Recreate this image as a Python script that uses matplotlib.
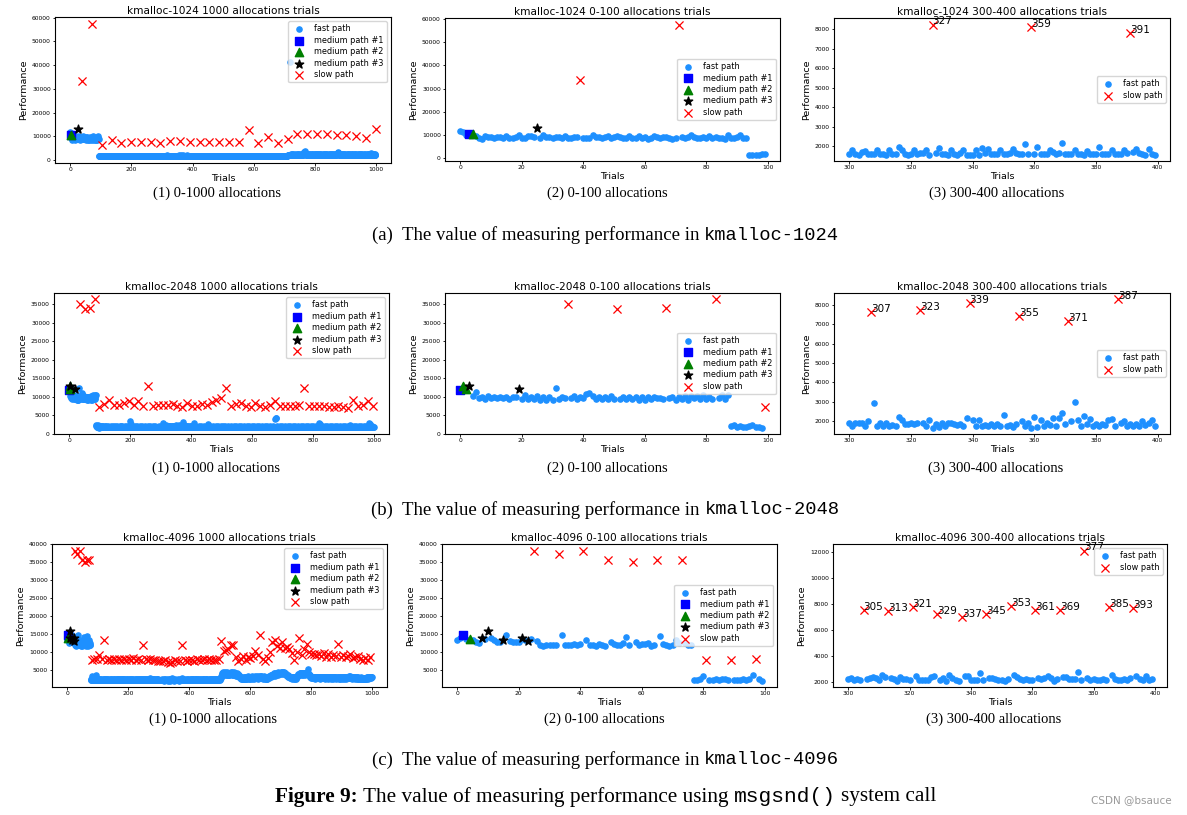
import numpy as np
import matplotlib
matplotlib.use('Agg')
import matplotlib.pyplot as plt

# measured performance per trial (units of 10), trials 0..999
perf_1024 = [
    1170, 1150, 1000, 1070, 1050, 950, 880, 850, 950, 900, 920, 870, 940, 900, 860, 950, 880, 870, 900, 1000,
    880, 890, 960, 980, 900, 1290, 870, 1020, 930, 900, 880, 920, 910, 860, 960, 870, 890, 910, 920, 3350,
    880, 890, 870, 1000, 900, 920, 880, 930, 950, 870, 900, 960, 910, 860, 880, 960, 870, 860, 950, 880,
    910, 850, 870, 960, 910, 870, 900, 940, 880, 850, 870, 5750, 900, 860, 930, 1000, 910, 880, 870, 940,
    880, 950, 860, 930, 860, 880, 850, 990, 870, 890, 930, 1000, 880, 870, 170, 170, 170, 170, 175, 180,
    165, 170, 180, 650, 175, 165, 170, 190, 168, 172, 165, 178, 170, 182, 166, 170, 175, 168, 185, 170,
    172, 168, 180, 175, 165, 170, 188, 170, 166, 174, 170, 180, 168, 172, 165, 850, 170, 178, 168, 175,
    168, 180, 172, 165, 170, 185, 170, 168, 176, 170, 165, 172, 190, 168, 170, 175, 166, 172, 180, 168,
    170, 165, 178, 172, 168, 170, 182, 700, 170, 166, 175, 170, 168, 180, 172, 165, 170, 185, 168, 172,
    166, 172, 170, 180, 168, 165, 175, 170, 190, 168, 172, 166, 170, 178, 165, 170, 182, 168, 172, 780,
    170, 168, 175, 166, 172, 180, 168, 170, 165, 176, 170, 172, 168, 185, 170, 166, 174, 170, 168, 180,
    172, 165, 170, 178, 168, 172, 166, 175, 170, 168, 182, 750, 170, 165, 172, 168, 178, 170, 166, 172,
    168, 175, 170, 165, 180, 170, 168, 172, 166, 190, 170, 168, 175, 170, 165, 172, 180, 168, 170, 166,
    172, 170, 168, 750, 175, 166, 170, 180, 168, 172, 165, 170, 178, 168, 172, 166, 175, 170, 185, 168,
    170, 166, 172, 178, 168, 170, 165, 175, 170, 168, 182, 170, 166, 172, 168, 720, 170, 175, 166, 170,
    160, 178, 160, 157, 169, 176, 160, 159, 160, 178, 160, 159, 157, 178, 160, 160, 195, 181, 160, 157,
    160, 178, 160, 163, 163, 178, 157, 825, 164, 188, 160, 162, 157, 178, 160, 157, 163, 178, 157, 157,
    157, 181, 157, 188, 163, 183, 160, 160, 160, 178, 160, 160, 163, 183, 163, 160, 160, 209, 160, 810,
    160, 195, 160, 160, 160, 178, 169, 160, 167, 217, 160, 160, 160, 179, 160, 160, 157, 174, 160, 160,
    159, 198, 160, 160, 160, 181, 160, 160, 160, 178, 163, 782, 169, 186, 163, 160, 157, 183, 159, 157,
    170, 165, 172, 168, 180, 170, 166, 175, 170, 168, 172, 165, 178, 170, 168, 185, 170, 166, 172, 168,
    175, 170, 165, 750, 172, 168, 180, 170, 166, 172, 170, 168, 175, 165, 170, 190, 168, 172, 166, 170,
    178, 168, 170, 165, 172, 180, 168, 170, 166, 175, 170, 168, 172, 165, 180, 760, 170, 168, 175, 166,
    172, 170, 168, 180, 165, 170, 175, 168, 172, 166, 170, 185, 168, 170, 165, 172, 178, 170, 168, 166,
    170, 175, 168, 172, 165, 180, 170, 750, 168, 172, 166, 170, 178, 168, 170, 165, 172, 180, 168, 170,
    166, 172, 170, 168, 190, 170, 165, 172, 168, 175, 170, 166, 172, 180, 168, 170, 165, 172, 170, 750,
    168, 172, 166, 175, 170, 168, 180, 170, 165, 172, 168, 170, 176, 166, 172, 170, 185, 168, 170, 172,
    166, 175, 170, 168, 172, 165, 180, 170, 168, 172, 166, 750, 170, 178, 168, 172, 165, 170, 175, 168,
    172, 170, 166, 180, 168, 170, 175, 165, 172, 170, 168, 178, 170, 166, 172, 168, 190, 170, 165, 172,
    170, 168, 175, 1270, 166, 172, 170, 180, 168, 165, 172, 170, 176, 168, 170, 166, 172, 180, 170, 168,
    172, 165, 170, 178, 168, 172, 166, 170, 185, 168, 170, 175, 166, 172, 170, 740, 168, 180, 170, 166,
    172, 170, 168, 175, 165, 172, 180, 168, 170, 166, 172, 170, 178, 168, 165, 172, 170, 180, 168, 172,
    166, 170, 175, 168, 172, 165, 170, 980, 168, 180, 172, 166, 170, 168, 175, 172, 165, 170, 190, 168,
    172, 170, 166, 178, 168, 170, 172, 165, 180, 170, 168, 172, 166, 175, 170, 168, 172, 180, 170, 720,
    168, 172, 165, 170, 176, 168, 172, 170, 166, 180, 168, 172, 170, 165, 175, 168, 170, 172, 166, 180,
    170, 168, 172, 165, 178, 170, 168, 172, 166, 170, 175, 880, 210, 225, 220, 235, 215, 230, 220, 4130,
    225, 240, 215, 230, 220, 245, 225, 215, 235, 220, 250, 225, 215, 230, 240, 220, 225, 235, 215, 230,
    245, 220, 230, 1080, 225, 215, 240, 230, 220, 250, 225, 235, 215, 230, 245, 220, 225, 240, 215, 230,
    225, 240, 230, 250, 265, 330, 360, 390, 300, 260, 240, 225, 235, 220, 245, 1100, 230, 220, 250, 225,
    235, 215, 240, 225, 230, 250, 220, 235, 225, 245, 220, 230, 240, 215, 235, 225, 250, 220, 230, 240,
    225, 235, 220, 245, 230, 215, 240, 1100, 225, 235, 250, 220, 230, 225, 240, 215, 235, 225, 245, 220,
    230, 240, 225, 215, 235, 250, 225, 230, 220, 245, 235, 225, 215, 240, 230, 225, 250, 220, 235, 1080,
    225, 240, 230, 215, 235, 225, 245, 220, 230, 240, 225, 215, 250, 230, 225, 235, 220, 240, 230, 225,
    245, 220, 235, 225, 230, 240, 215, 250, 225, 235, 230, 1070, 240, 260, 290, 310, 320, 280, 245, 225,
    235, 225, 240, 215, 230, 250, 225, 235, 220, 245, 230, 225, 240, 215, 235, 225, 250, 230, 220, 240,
    225, 235, 215, 1050, 230, 245, 225, 220, 240, 230, 215, 235, 225, 250, 230, 220, 240, 225, 235, 215,
    240, 230, 225, 245, 220, 235, 230, 215, 250, 225, 235, 240, 220, 230, 225, 1030, 240, 215, 235, 225,
    230, 245, 220, 235, 225, 240, 215, 230, 250, 225, 235, 220, 240, 230, 215, 245, 225, 235, 220, 230,
    240, 225, 235, 215, 250, 230, 225, 950, 235, 220, 240, 230, 225, 245, 215, 235, 230, 250, 225, 220,
    235, 245, 260, 270, 290, 260, 240, 225, 235, 220, 245, 230, 215, 240, 225, 235, 220, 230, 240, 1300,
]
slow_1024 = [39, 71, 103, 135, 167, 199, 231, 263, 295, 327, 359, 391, 423, 455, 487, 519,
             551, 583, 615, 647, 679, 711, 743, 775, 807, 839, 871, 903, 935, 967, 999]
med1_1024 = [3]
med2_1024 = [4]
med3_1024 = [25]

perf_2048 = [
    1190, 1280, 1210, 1280, 1010, 1120, 970, 980, 930, 1010, 960, 1000, 950, 1000, 950, 1000, 940, 980, 990, 1210,
    940, 1030, 940, 980, 940, 1020, 920, 990, 920, 980, 920, 1240, 930, 990, 950, 3500, 950, 1010, 930, 990,
    970, 1070, 1100, 1010, 930, 980, 930, 990, 940, 1010, 930, 3370, 940, 1000, 930, 990, 930, 980, 920, 990,
    920, 990, 930, 1000, 960, 970, 930, 3390, 960, 990, 920, 990, 930, 1020, 920, 1020, 950, 1010, 930, 1030,
    930, 990, 930, 3630, 960, 1030, 930, 1040, 190, 220, 170, 190, 180, 170, 190, 240, 180, 180, 160, 720,
    180, 190, 175, 185, 195, 178, 182, 190, 176, 185, 180, 192, 178, 186, 180, 800, 184, 176, 190, 182,
    178, 186, 192, 180, 175, 188, 182, 190, 178, 184, 180, 900, 176, 188, 182, 178, 192, 180, 186, 176,
    184, 180, 190, 178, 186, 182, 176, 780, 188, 180, 192, 178, 184, 186, 180, 176, 190, 182, 178, 186,
    180, 188, 176, 770, 184, 190, 178, 182, 186, 180, 176, 192, 184, 178, 190, 182, 180, 186, 176, 830,
    188, 182, 178, 190, 184, 176, 186, 180, 192, 178, 184, 182, 176, 188, 180, 880, 186, 182, 190, 240,
    330, 250, 184, 190, 178, 186, 182, 176, 188, 180, 184, 760, 178, 186, 182, 190, 176, 184, 180, 188,
    182, 178, 190, 184, 176, 186, 180, 890, 188, 182, 178, 184, 190, 176, 186, 180, 182, 188, 178, 184,
    190, 180, 176, 740, 186, 182, 188, 178, 184, 190, 176, 182, 186, 180, 188, 178, 184, 176, 190, 1280,
    184, 180, 188, 176, 182, 190, 186, 178, 184, 180, 188, 176, 182, 186, 190, 750, 178, 184, 180, 188,
    176, 186, 182, 190, 178, 184, 180, 188, 176, 182, 186, 760, 184, 178, 190, 182, 180, 186, 176, 184,
    188, 174, 188, 191, 191, 171, 197, 762, 290, 171, 191, 171, 188, 171, 179, 171, 220, 202, 185, 185,
    188, 185, 188, 774, 191, 171, 202, 165, 185, 168, 191, 171, 191, 188, 185, 179, 185, 171, 216, 808,
    202, 171, 202, 174, 179, 174, 185, 171, 185, 174, 231, 171, 181, 169, 185, 741, 198, 171, 188, 165,
    220, 168, 205, 171, 191, 176, 216, 174, 216, 240, 183, 715, 197, 300, 202, 171, 224, 185, 212, 174,
    185, 171, 185, 179, 202, 208, 171, 829, 187, 197, 171, 185, 171, 185, 171, 197, 179, 188, 202, 171,
    184, 178, 190, 750, 182, 186, 176, 188, 180, 184, 290, 182, 178, 186, 190, 176, 184, 180, 188, 740,
    182, 176, 188, 184, 180, 190, 178, 186, 182, 176, 188, 180, 184, 190, 178, 800, 186, 182, 176, 188,
    180, 184, 178, 190, 186, 182, 176, 188, 180, 184, 178, 770, 190, 186, 180, 176, 260, 184, 178, 188,
    182, 186, 176, 190, 180, 184, 178, 850, 188, 182, 176, 186, 180, 190, 184, 178, 182, 188, 176, 184,
    190, 180, 186, 900, 178, 184, 182, 188, 176, 190, 180, 184, 186, 178, 182, 188, 176, 184, 190, 950,
    180, 186, 178, 184, 190, 182, 176, 188, 180, 184, 178, 186, 190, 182, 176, 1220, 184, 180, 188, 178,
    186, 182, 190, 176, 184, 180, 188, 178, 186, 182, 190, 750, 176, 184, 180, 188, 182, 178, 186, 190,
    180, 184, 176, 188, 182, 186, 178, 800, 190, 180, 184, 176, 188, 182, 186, 178, 190, 184, 180, 176,
    188, 182, 186, 830, 178, 190, 184, 180, 176, 188, 182, 186, 178, 190, 184, 180, 176, 188, 182, 750,
    186, 178, 190, 184, 180, 176, 188, 182, 186, 178, 190, 184, 180, 176, 188, 730, 182, 186, 178, 190,
    184, 180, 176, 188, 182, 186, 178, 190, 184, 180, 176, 830, 188, 182, 186, 178, 190, 184, 180, 176,
    188, 182, 186, 178, 190, 184, 180, 750, 176, 188, 182, 186, 178, 190, 184, 180, 176, 188, 182, 186,
    178, 190, 184, 730, 180, 176, 188, 182, 186, 178, 190, 184, 180, 176, 188, 182, 186, 178, 190, 760,
    184, 180, 176, 188, 182, 186, 178, 190, 184, 180, 176, 188, 182, 186, 178, 870, 400, 420, 410, 186,
    182, 178, 190, 184, 180, 176, 188, 182, 186, 178, 190, 750, 184, 180, 176, 188, 182, 186, 178, 190,
    184, 180, 176, 188, 182, 186, 178, 750, 190, 184, 180, 176, 188, 182, 186, 178, 190, 184, 180, 176,
    188, 182, 186, 750, 178, 190, 184, 180, 176, 188, 182, 186, 178, 190, 184, 180, 176, 188, 182, 750,
    186, 178, 190, 184, 180, 176, 188, 182, 186, 178, 190, 184, 180, 176, 188, 760, 182, 186, 178, 190,
    184, 180, 176, 188, 182, 186, 178, 190, 184, 180, 176, 1220, 188, 182, 186, 178, 190, 184, 180, 176,
    188, 182, 186, 178, 190, 184, 180, 750, 176, 188, 182, 186, 178, 190, 184, 180, 176, 188, 182, 186,
    178, 190, 184, 750, 180, 176, 188, 182, 186, 178, 190, 184, 180, 176, 188, 182, 186, 178, 190, 740,
    280, 260, 184, 180, 176, 188, 182, 186, 178, 190, 184, 180, 176, 188, 182, 750, 186, 178, 190, 184,
    180, 176, 188, 182, 186, 178, 190, 184, 180, 176, 188, 720, 182, 186, 178, 190, 184, 180, 176, 188,
    182, 186, 178, 190, 184, 180, 176, 730, 188, 182, 186, 178, 190, 184, 180, 176, 188, 182, 186, 178,
    190, 184, 180, 740, 176, 188, 182, 186, 178, 190, 184, 180, 176, 188, 182, 186, 178, 190, 184, 730,
    180, 176, 188, 182, 186, 178, 190, 184, 180, 176, 188, 182, 186, 178, 190, 700, 184, 180, 176, 188,
    182, 186, 230, 178, 190, 184, 180, 176, 188, 182, 186, 920, 178, 190, 184, 180, 176, 188, 182, 186,
    178, 190, 184, 180, 176, 188, 182, 740, 186, 178, 190, 184, 180, 176, 188, 182, 186, 178, 190, 184,
    180, 176, 188, 760, 182, 186, 178, 190, 184, 180, 176, 188, 182, 186, 178, 190, 184, 180, 176, 890,
    188, 182, 186, 178, 280, 250, 190, 184, 180, 176, 188, 182, 186, 178, 190, 750, 184, 180, 176, 188,
]
slow_2048 = [35, 51, 67, 83, 99, 115, 131, 147, 163, 179, 195, 211, 227, 243, 259, 275, 291,
             307, 323, 339, 355, 371, 387, 403, 419, 435, 451, 467, 483, 499, 515, 531, 547,
             563, 579, 595, 611, 627, 643, 659, 675, 691, 707, 723, 739, 755, 771, 787, 803,
             819, 835, 851, 867, 883, 899, 915, 931, 947, 963, 979, 995]
med1_2048 = [0]
med2_2048 = [1, 2]
med3_2048 = [3, 19]

perf_4096 = [
    1340, 1400, 1490, 1360, 1380, 1330, 1300, 1250, 1390, 1380, 1580, 1410, 1340, 1300, 1290, 1330, 1470, 1310, 1300, 1290,
    1280, 1400, 1340, 1310, 1360, 3820, 1320, 1190, 1180, 1190, 1200, 1200, 1200, 3720, 1470, 1200, 1210, 1190, 1230, 1190,
    1230, 3800, 1350, 1210, 1200, 1180, 1240, 1210, 1180, 3550, 1290, 1240, 1210, 1200, 1250, 1430, 1210, 3500, 1300, 1200,
    1230, 1240, 1250, 1180, 1210, 3560, 1450, 1230, 1190, 1180, 1200, 1330, 1270, 3550, 1250, 1190, 1190, 240, 240, 250,
    340, 790, 240, 240, 250, 240, 250, 260, 230, 800, 230, 230, 240, 260, 240, 250, 360, 810, 250, 220,
    230, 250, 220, 240, 260, 910, 230, 220, 250, 240, 230, 260, 220, 800, 240, 230, 250, 220, 240, 230,
    250, 1340, 230, 240, 220, 260, 230, 250, 240, 790, 220, 230, 260, 240, 230, 250, 220, 810, 240, 230,
    220, 250, 240, 230, 260, 770, 220, 240, 250, 230, 240, 220, 260, 800, 230, 250, 240, 220, 230, 260,
    240, 780, 250, 230, 220, 260, 240, 230, 250, 820, 220, 240, 230, 260, 250, 220, 240, 790, 230, 250,
    260, 230, 220, 250, 240, 800, 230, 260, 240, 220, 250, 230, 240, 780, 220, 260, 230, 250, 240, 230,
    220, 810, 240, 260, 230, 250, 220, 240, 230, 790, 260, 240, 220, 230, 250, 240, 260, 830, 230, 220,
    240, 250, 230, 220, 260, 780, 240, 230, 250, 220, 240, 260, 230, 800, 250, 220, 240, 230, 260, 240,
    230, 790, 250, 240, 220, 230, 260, 240, 250, 1200, 230, 220, 240, 260, 230, 250, 240, 800, 220, 230,
    250, 240, 230, 260, 220, 780, 250, 230, 240, 260, 280, 230, 220, 810, 240, 250, 230, 220, 260, 240,
    230, 770, 240, 250, 220, 230, 260, 240, 250, 790, 230, 220, 240, 260, 250, 230, 220, 760, 240, 250,
    223, 231, 218, 226, 220, 751, 223, 233, 241, 231, 220, 259, 238, 743, 231, 223, 215, 243, 226, 223,
    220, 774, 251, 220, 220, 220, 218, 241, 246, 726, 218, 233, 215, 254, 233, 220, 215, 703, 246, 246,
    220, 218, 220, 274, 220, 723, 236, 233, 228, 220, 218, 215, 223, 784, 256, 241, 226, 218, 223, 218,
    220, 756, 231, 228, 231, 251, 233, 215, 223, 751, 241, 243, 226, 223, 223, 277, 220, 1208, 231, 220,
    223, 220, 218, 223, 220, 779, 254, 226, 220, 220, 226, 218, 231, 766, 246, 223, 220, 246, 220, 226,
    230, 780, 250, 240, 220, 260, 230, 240, 250, 790, 220, 230, 260, 240, 250, 230, 220, 760, 240, 250,
    240, 230, 220, 260, 250, 800, 230, 240, 220, 250, 260, 230, 240, 780, 220, 230, 250, 240, 260, 230,
    220, 790, 240, 230, 260, 250, 220, 240, 230, 810, 250, 240, 220, 230, 260, 240, 250, 780, 220, 230,
    250, 240, 230, 220, 260, 800, 240, 230, 250, 220, 240, 260, 230, 770, 250, 240, 220, 230, 260, 240,
    230, 790, 250, 240, 220, 260, 230, 250, 240, 780, 220, 230, 260, 250, 240, 230, 220, 800, 250, 240,
    230, 260, 250, 280, 320, 1310, 350, 400, 380, 420, 360, 390, 440, 1040, 410, 370, 430, 390, 450, 400,
    380, 1060, 420, 360, 400, 440, 390, 370, 410, 1100, 430, 380, 360, 400, 420, 390, 440, 1210, 410, 370,
    430, 460, 390, 420, 380, 1190, 410, 440, 370, 400, 360, 420, 390, 880, 380, 350, 410, 370, 340, 390,
    360, 760, 330, 380, 300, 350, 320, 280, 300, 820, 270, 290, 260, 310, 280, 250, 270, 900, 290, 260,
    280, 300, 250, 270, 320, 780, 290, 260, 300, 280, 310, 270, 330, 880, 290, 260, 310, 280, 300, 270,
    320, 850, 290, 310, 280, 300, 330, 270, 310, 900, 290, 320, 280, 300, 270, 310, 340, 1040, 300, 280,
    310, 290, 330, 280, 300, 930, 320, 270, 340, 290, 310, 300, 280, 1470, 330, 290, 310, 350, 300, 320,
    290, 800, 320, 270, 310, 340, 280, 300, 260, 760, 290, 310, 250, 280, 300, 270, 260, 830, 290, 320,
    300, 340, 310, 280, 330, 1000, 350, 320, 370, 340, 360, 380, 350, 1290, 390, 360, 340, 380, 410, 370,
    350, 1350, 390, 420, 380, 400, 360, 430, 410, 1170, 400, 380, 420, 440, 390, 410, 430, 1120, 400, 420,
    440, 410, 430, 460, 420, 1270, 400, 450, 430, 410, 440, 420, 390, 1110, 430, 410, 380, 400, 370, 390,
    360, 1150, 340, 370, 320, 350, 300, 330, 310, 1080, 290, 320, 300, 280, 310, 290, 300, 980, 270, 300,
    290, 310, 280, 300, 270, 780, 260, 290, 300, 280, 310, 290, 270, 1000, 300, 330, 360, 380, 400, 370,
    390, 1400, 410, 380, 420, 400, 430, 390, 410, 930, 380, 420, 400, 370, 410, 390, 420, 1080, 400, 430,
    410, 380, 420, 400, 390, 1230, 410, 430, 400, 420, 530, 410, 390, 1000, 380, 360, 340, 320, 300, 310,
    290, 960, 310, 280, 300, 290, 320, 280, 300, 950, 290, 310, 270, 300, 280, 310, 290, 930, 300, 280,
    310, 290, 300, 280, 310, 960, 290, 300, 270, 310, 290, 280, 300, 900, 310, 290, 280, 300, 290, 310,
    280, 980, 300, 290, 310, 270, 300, 290, 280, 870, 310, 300, 290, 280, 300, 310, 270, 960, 290, 300,
    310, 280, 300, 290, 270, 880, 300, 310, 280, 290, 300, 270, 290, 930, 310, 280, 300, 290, 310, 280,
    300, 900, 290, 270, 280, 300, 290, 310, 280, 1230, 270, 300, 290, 280, 310, 290, 270, 880, 300, 290,
    280, 300, 270, 290, 310, 920, 280, 300, 290, 270, 300, 280, 310, 860, 290, 270, 300, 280, 290, 310,
    300, 900, 280, 310, 290, 330, 340, 310, 290, 940, 320, 300, 280, 290, 310, 270, 300, 830, 290, 280,
    300, 290, 280, 310, 270, 880, 290, 300, 280, 270, 290, 310, 280, 900, 300, 270, 290, 280, 260, 280,
    270, 800, 290, 280, 260, 300, 270, 290, 280, 790, 260, 280, 270, 290, 260, 280, 270, 840, 280, 260,
    290, 270, 300, 280, 320, 790, 290, 270, 280, 300, 290, 310, 280, 860, 300, 320, 310, 290, 300, 320,
]
slow_4096 = [25, 33, 41, 49, 57, 65, 73, 81, 89, 97, 105, 113, 121, 129, 137, 145, 153, 161,
             169, 177, 185, 193, 201, 209, 217, 225, 233, 241, 249, 257, 265, 273, 281, 289,
             297, 305, 313, 321, 329, 337, 345, 353, 361, 369, 377, 385, 393, 401, 409, 417,
             425, 433, 441, 449, 457, 465, 473, 481, 489, 497, 505, 513, 521, 529, 537, 545,
             553, 561, 569, 577, 585, 593, 601, 609, 617, 625, 633, 641, 649, 657, 665, 673,
             681, 689, 697, 705, 713, 721, 729, 737, 745, 753, 761, 769, 777, 785, 793, 801,
             809, 817, 825, 833, 841, 849, 857, 865, 873, 881, 889, 897, 905, 913, 921, 929,
             937, 945, 953, 961, 969, 977, 985, 993]
med1_4096 = [2]
med2_4096 = [4]
med3_4096 = [8, 10, 15, 21, 23]

cache_names = ['kmalloc-1024', 'kmalloc-2048', 'kmalloc-4096']
row_tags = ['(a)', '(b)', '(c)']
view_ranges = [(0, 1000), (0, 100), (300, 400)]
view_titles = ['1000 allocations trials', '0-100 allocations trials', '300-400 allocations trials']
view_captions = ['(1) 0-1000 allocations', '(2) 0-100 allocations', '(3) 300-400 allocations']
legend_locs = [['upper right', 'center right', 'center right'],
               ['upper right', 'center right', 'center right'],
               ['upper right', 'center right', 'upper right']]

datasets = [
    (perf_1024, slow_1024, med1_1024, med2_1024, med3_1024),
    (perf_2048, slow_2048, med1_2048, med2_2048, med3_2048),
    (perf_4096, slow_4096, med1_4096, med2_4096, med3_4096),
]

series = [
    ('fast path', dict(c='dodgerblue', marker='o', s=14)),
    ('medium path #1', dict(c='blue', marker='s', s=32)),
    ('medium path #2', dict(c='green', marker='^', s=36)),
    ('medium path #3', dict(c='black', marker='*', s=40)),
    ('slow path', dict(c='red', marker='x', s=34, linewidths=0.9)),
]

# axes boxes in pixels: left, top, right, bottom
boxes = [
    [(55, 17, 391, 163), (445, 18, 780, 161), (834, 18, 1170, 161)],
    [(54, 293, 389, 434), (445, 293, 780, 434), (834, 293, 1170, 434)],
    [(52, 544, 387, 687), (442, 544, 777, 687), (833, 544, 1167, 687)],
]
sub_y = [193, 468, 719]
sub_x = [[217, 607, 997], [216, 607, 996], [213, 604, 994]]
row_cap_y = [235, 510, 760]

W, H = 1187, 815
fig = plt.figure(figsize=(W / 100, H / 100), dpi=100)
fig.patch.set_facecolor('white')

for r, (perf, slow, m1, m2, m3) in enumerate(datasets):
    perf = np.array(perf) * 10
    assert len(perf) == 1000, (r, len(perf))
    trials = np.arange(len(perf))
    kind = np.zeros(len(perf), dtype=int)
    kind[m1] = 1
    kind[m2] = 2
    kind[m3] = 3
    kind[slow] = 4
    for c, (lo, hi) in enumerate(view_ranges):
        l, t, rr, b = boxes[r][c]
        ax = fig.add_axes([l / W, 1 - b / H, (rr - l) / W, (b - t) / H])
        sel = (trials >= lo) & (trials < hi)
        for k, (label, style) in enumerate(series):
            m = sel & (kind == k)
            if m.any():
                ax.scatter(trials[m], perf[m], label=label, **style)
        if c == 2:
            for tr in trials[sel & (kind == 4)]:
                ax.annotate(str(tr), (tr, perf[tr]), fontsize=7.5)
        ax.set_title(cache_names[r] + ' ' + view_titles[c], fontsize=7.6, pad=2)
        ax.set_xlabel('Trials', fontsize=6.8, labelpad=1)
        ax.set_ylabel('Performance', fontsize=6.8, labelpad=2.5)
        ax.tick_params(labelsize=4.3, length=1.8, width=0.6, pad=1.2)
        for sp in ax.spines.values():
            sp.set_linewidth(0.8)
        ax.legend(loc=legend_locs[r][c], fontsize=5.9, labelspacing=0.3,
                  borderpad=0.4, handletextpad=0.8)
        fig.text(sub_x[r][c] / W, 1 - sub_y[r] / H, view_captions[c],
                 family='Liberation Serif', fontsize=10.5, ha='center', va='center')


def mixed_line(y_px, parts, size):
    rend = fig.canvas.get_renderer()
    objs = [fig.text(0, 1 - y_px / H, s, fontsize=size, va='center', ha='left', **kw)
            for s, kw in parts]
    gap = 0.25 * size * fig.dpi / 72
    widths = [o.get_window_extent(rend).width for o in objs]
    x = W / 2 + 12 - (sum(widths) + gap * (len(objs) - 1)) / 2
    for o, w in zip(objs, widths):
        o.set_x(x / W)
        x += w + gap


serif = dict(family='Liberation Serif')
mono = dict(family='Liberation Mono')
for r in range(3):
    mixed_line(row_cap_y[r], [(row_tags[r] + '  The value of measuring performance in', serif),
                              (cache_names[r], mono)], 13.5)

mixed_line(797, [('Figure 9:', dict(family='Liberation Serif', weight='bold')),
                 ('The value of measuring performance using', serif),
                 ('msgsnd()', mono),
                 ('system call', serif)], 15.3)

fig.text(1172 / W, 1 - 800 / H, 'CSDN @bsauce', color='#9a9a9a', fontsize=7.5,
         ha='right', va='center')

fig.savefig('out.png', dpi=100)
